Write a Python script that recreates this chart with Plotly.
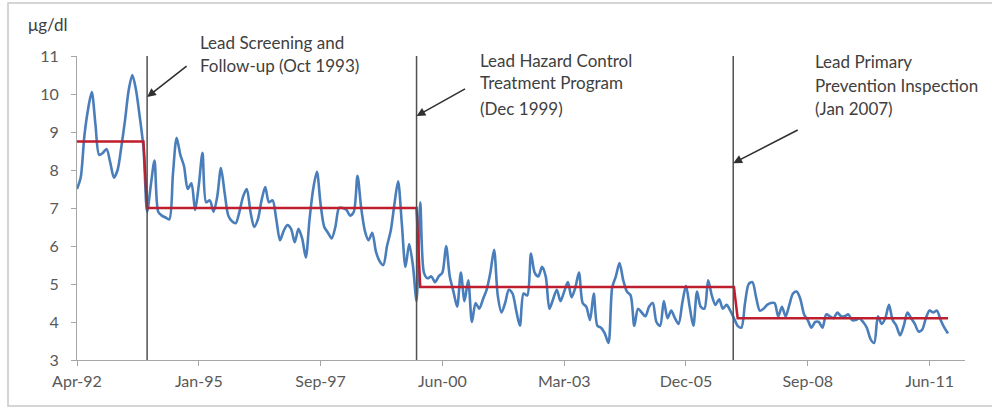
import plotly.graph_objects as go

# ---- data (monthly mean blood lead, µg/dl), Apr 1992 .. Dec 2011 ----
lead_values = [
    7.5, 7.8, 8.9, 9.6, 10.05, 9.2, 8.4, 8.45, 8.55, 8.2, 7.8, 8.0,
    8.6, 9.3, 10.1, 10.5, 10.1, 9.4, 8.6, 6.9, 7.6, 8.25, 6.9, 6.8,
    6.75, 6.7, 7.9, 8.85, 8.4, 8.1, 7.5, 7.65, 6.95, 7.6, 8.45, 7.15,
    7.2, 6.9, 7.3, 8.05, 7.4, 6.8, 6.65, 6.6, 6.9, 7.3, 7.5, 6.9,
    6.5, 6.7, 7.2, 7.55, 7.15, 7.2, 6.7, 6.15, 6.4, 6.55, 6.45, 6.1,
    6.45, 6.2, 5.7, 6.7, 7.5, 7.95, 7.1, 6.5, 6.35, 6.2, 6.5, 7.0,
    7.0, 6.95, 6.8, 6.9, 7.85, 7.0, 6.4, 6.15, 6.35, 5.85, 5.6, 5.5,
    6.0, 6.4, 7.1, 7.7, 6.6, 5.45, 6.05, 5.5, 4.55, 7.15, 5.3, 5.15,
    5.2, 5.05, 5.2, 5.3, 6.0, 5.2, 4.8, 4.4, 5.3, 4.55, 5.1, 4.0,
    4.5, 4.35, 4.6, 4.85, 5.3, 5.9, 4.7, 4.25, 4.5, 4.85, 4.75, 4.3,
    3.9, 4.75, 4.7, 5.8, 5.3, 5.2, 5.45, 5.2, 4.35, 4.6, 4.85, 4.55,
    4.8, 5.05, 4.65, 4.9, 5.3, 4.5, 4.4, 4.05, 4.75, 3.9, 3.85, 3.7,
    3.45, 4.9, 5.2, 5.55, 5.1, 4.8, 4.7, 3.9, 4.35, 4.25, 4.15, 4.4,
    4.5, 4.0, 3.9, 4.55, 4.1, 4.3, 4.1, 3.95, 4.5, 4.95, 4.4, 3.9,
    4.8, 4.4, 4.35, 5.1, 4.7, 4.45, 4.6, 4.35, 4.45, 4.3, 4.1, 3.9,
    3.85, 4.5, 5.0, 5.05, 4.65, 4.3, 4.35, 4.45, 4.5, 4.5, 4.15, 4.4,
    4.15, 4.45, 4.75, 4.8, 4.6, 4.2, 4.05, 3.85, 4.0, 4.0, 3.85, 4.2,
    4.15, 4.1, 4.25, 4.15, 4.15, 4.2, 4.05, 4.05, 4.1, 4.0, 3.85, 3.55,
    3.45, 4.15, 3.95, 4.1, 4.45, 4.05, 3.9, 3.65, 3.9, 4.25, 4.1, 3.95,
    3.75, 3.8, 4.1, 4.3, 4.25, 4.3, 4.05, 3.85, 3.7,
]

# category axis labels (every 33rd month)
tick_labels = ["Apr-92", "Jan-95", "Sep-97", "Jun-00", "Mar-03", "Dec-05", "Sep-08", "Jun-11"]
tick_step = 33

# period means (red step line) and the first month index of each period
period_means = [8.75, 7.0, 4.92, 4.1]
period_first_index = [0, 19, 93, 179]

# interventions (position in months since Apr-92)
intervention_index = [19.0, 92.0, 177.8]
intervention_labels = [
    ["Lead Screening and", "Follow-up (Oct 1993)"],
    ["Lead Hazard Control", "Treatment Program", "(Dec 1999)"],
    ["Lead Primary", "Prevention Inspection", "(Jan 2007)"],
]
arrow_head_values = [9.92, 9.42, 8.18]

y_ticks = [3, 4, 5, 6, 7, 8, 9, 10, 11]

months = list(range(len(lead_values)))

mean_series = []
for i in months:
    k = max(j for j, s in enumerate(period_first_index) if i >= s)
    mean_series.append(period_means[k])

FONT = "Lato, Calibri, 'Open Sans', sans-serif"
TXT = "#404040"

fig = go.Figure()
fig.add_trace(go.Scatter(
    x=months, y=lead_values, mode="lines",
    line=dict(color="#4a7ebb", width=2.6, shape="spline", smoothing=0.8),
    showlegend=False))
fig.add_trace(go.Scatter(
    x=months, y=mean_series, mode="lines",
    line=dict(color="#be1e2d", width=2.5),
    showlegend=False))

shapes = []
for d in intervention_index:
    shapes.append(dict(type="line", xref="x", yref="y", x0=d, x1=d, y0=3, y1=11,
                       line=dict(color="#505050", width=1.5), layer="above"))
# outer frame
shapes.append(dict(type="rect", xref="paper", yref="paper",
                   x0=-0.0777, x1=1.034, y0=-0.1513, y1=1.1743,
                   line=dict(color="#c8c8c8", width=1.5), layer="below"))

annotations = []
arrow_offsets = [(41, -32), (50, -28), (66, -34)]
for d, v, (ax, ay) in zip(intervention_index, arrow_head_values, arrow_offsets):
    annotations.append(dict(x=d, y=v, xref="x", yref="y", ax=ax, ay=ay,
                            showarrow=True, arrowhead=2, arrowsize=1.1,
                            arrowwidth=1.6, arrowcolor="#303030", text=""))
text_x = [0.1363, 0.4516, 0.8288]
text_y = [[1.046, 0.970], [0.9836, 0.9112, 0.8289], [0.9803, 0.9046, 0.8289]]
for lines, tx, tys in zip(intervention_labels, text_x, text_y):
    for line, ty in zip(lines, tys):
        annotations.append(dict(x=tx, y=ty, xref="paper", yref="paper",
                                xanchor="left", yanchor="middle", showarrow=False,
                                text=line, font=dict(family=FONT, size=17, color=TXT)))
annotations.append(dict(x=-0.0327, y=1.102, xref="paper", yref="paper",
                        xanchor="center", yanchor="middle", showarrow=False,
                        text="μg/dl", font=dict(family=FONT, size=17, color=TXT)))

fig.update_layout(
    width=992, height=408, autosize=False,
    margin=dict(l=77, r=27, t=56, b=48),
    paper_bgcolor="white", plot_bgcolor="white",
    font=dict(family=FONT, color="#595959", size=16),
    shapes=shapes, annotations=annotations,
    xaxis=dict(range=[0, 240.6],
               tickvals=[i * tick_step for i in range(len(tick_labels))],
               ticktext=tick_labels,
               showgrid=False, zeroline=False, showline=True,
               linecolor="#a6a6a6", linewidth=1.2,
               ticks="outside", ticklen=5, tickcolor="#a6a6a6",
               ticklabelstandoff=2,
               tickfont=dict(family=FONT, size=16, color="#595959")),
    yaxis=dict(range=[3, 11], tickvals=y_ticks, showgrid=False, zeroline=False,
               showline=True, linecolor="#a6a6a6", linewidth=1.2,
               ticks="outside", ticklen=5, tickcolor="#a6a6a6",
               ticklabelstandoff=9,
               tickfont=dict(family=FONT, size=16, color="#595959")),
)

fig.write_html("out.html", config={"displayModeBar": False},
               post_script="document.body.style.margin='0';")
